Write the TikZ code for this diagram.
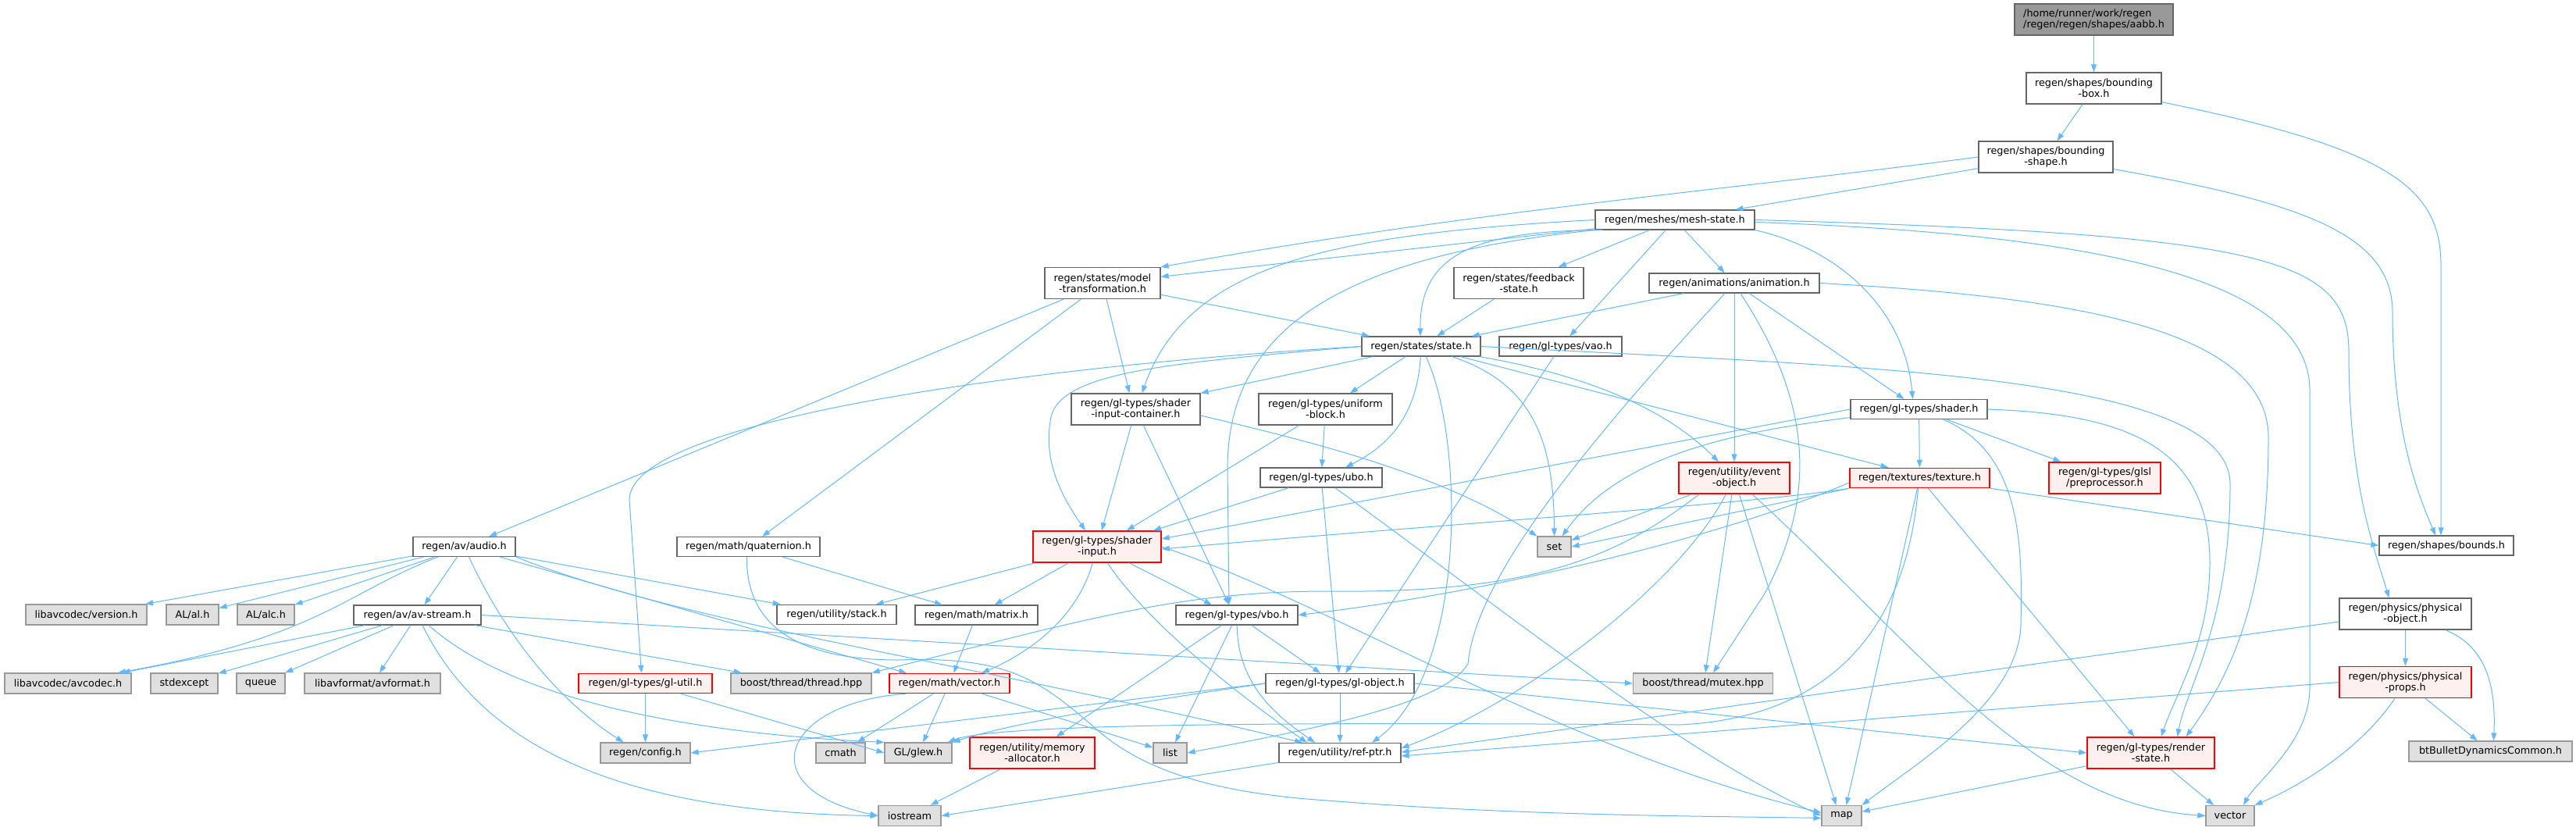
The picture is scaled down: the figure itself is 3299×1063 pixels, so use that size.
\documentclass[tikz,border=0pt]{standalone}
\usepackage{fontspec}
\setmainfont{DejaVu Sans}
\usetikzlibrary{arrows.meta}
\definecolor{edgeblue}{HTML}{63B8FF}
\definecolor{boxgray}{HTML}{666666}
\definecolor{sysfill}{HTML}{E0E0E0}
\definecolor{sysdraw}{HTML}{999999}
\definecolor{redfill}{HTML}{FFF0F0}
\definecolor{rootfill}{HTML}{999999}

\begin{document}
\begin{tikzpicture}[x=1pt, y=-1pt,
    every node/.style={font=\fontsize{12.8pt}{14pt}\selectfont, inner sep=0pt, align=center},
    box/.style={draw=boxgray, fill=white, line width=1.2pt, minimum height=25pt},
    rbox/.style={draw=red, fill=redfill, line width=1.5pt, minimum height=25pt},
    sysbox/.style={draw=sysdraw, fill=sysfill, line width=1.2pt, minimum height=26pt},
    rootbox/.style={draw=boxgray, fill=rootfill, line width=1.2pt},
    w/.style={minimum width=#1pt},
    tall/.style={minimum height=40pt},
    dep/.style={draw=edgeblue, line width=1pt, -{Triangle[length=10pt,width=7pt]}}]
  \useasboundingbox (0,0) rectangle (3299,1063);

  % headers of the project
  \node[rootbox, w=203, tall, align=left] (aabb) at (2681.5,25) {/home/runner/work/regen\\/regen/regen/shapes/aabb.h};
  \node[box, w=173, tall] (bbox) at (2681.5,113) {regen/shapes/bounding\\-box.h};
  \node[box, w=172, tall] (bshape) at (2620,201) {regen/shapes/bounding\\-shape.h};
  \node[box, w=204] (meshstate) at (2145,281.5) {regen/meshes/mesh-state.h};
  \node[box, w=148, tall] (modeltrans) at (1412,362.5) {regen/states/model\\-transformation.h};
  \node[box, w=166, tall] (feedback) at (1945,362.5) {regen/states/feedback\\-state.h};
  \node[box, w=218] (animation) at (2221,362.5) {regen/animations/animation.h};
  \node[box, w=152] (state) at (1820,443.5) {regen/states/state.h};
  \node[box, w=157] (vao) at (1998.5,443.5) {regen/gl-types/vao.h};
  \node[box, w=165, tall] (sic) at (1454.5,524) {regen/gl-types/shader\\-input-container.h};
  \node[box, w=171, tall] (ublock) at (1697.5,524) {regen/gl-types/uniform\\-block.h};
  \node[box, w=175] (shader) at (2457.5,524) {regen/gl-types/shader.h};
  \node[box, w=156] (ubo) at (1692,611.5) {regen/gl-types/ubo.h};
  \node[rbox, w=142, tall] (eventobj) at (2221,612) {regen/utility/event\\-object.h};
  \node[rbox, w=179] (texture) at (2458.5,612) {regen/textures/texture.h};
  \node[rbox, w=143, tall] (glsl) at (2695.5,612) {regen/gl-types/glsl\\/preprocessor.h};
  \node[rbox, w=164, tall] (sinput) at (1405,700) {regen/gl-types/shader\\-input.h};
  \node[box, w=172] (bounds) at (3133,698.5) {regen/shapes/bounds.h};
  \node[box, w=131] (audio) at (594.5,700) {regen/av/audio.h};
  \node[box, w=183] (quaternion) at (958.5,700) {regen/math/quaternion.h};
  \node[box, w=163] (avstream) at (534.5,787.5) {regen/av/av-stream.h};
  \node[box, w=153] (stack) at (1071.5,787) {regen/utility/stack.h};
  \node[box, w=157] (matrix) at (1250.5,787.5) {regen/math/matrix.h};
  \node[box, w=156] (vbo) at (1584,787.5) {regen/gl-types/vbo.h};
  \node[box, w=169, tall] (physobj) at (3080.5,786) {regen/physics/physical\\-object.h};
  \node[rbox, w=171] (glutil) at (826.5,875) {regen/gl-types/gl-util.h};
  \node[rbox, w=154] (vectorh) at (1216,875) {regen/math/vector.h};
  \node[box, w=190] (globj) at (1716,875) {regen/gl-types/gl-object.h};
  \node[rbox, w=169, tall] (physprops) at (3080.5,873.5) {regen/physics/physical\\-props.h};
  \node[rbox, w=160, tall] (memalloc) at (1322,964) {regen/utility/memory\\-allocator.h};
  \node[box, w=156] (refptr) at (1716,964) {regen/utility/ref-ptr.h};
  \node[rbox, w=163, tall] (renderstate) at (2754.5,964) {regen/gl-types/render\\-state.h};

  % system and library headers
  \node[sysbox, w=43] (set) at (1990.5,700) {set};
  \node[sysbox, w=155] (avversion) at (110.5,787) {libavcodec/version.h};
  \node[sysbox, w=67] (alh) at (246.5,787) {AL/al.h};
  \node[sysbox, w=73] (alch) at (340.5,787) {AL/alc.h};
  \node[sysbox, w=162] (avcodec) at (87,875) {libavcodec/avcodec.h};
  \node[sysbox, w=86] (stdexcept) at (236,875) {stdexcept};
  \node[sysbox, w=62] (queue) at (334,875) {queue};
  \node[sysbox, w=174] (avformat) at (477,875) {libavformat/avformat.h};
  \node[sysbox, w=180] (thread) at (1026,875) {boost/thread/thread.hpp};
  \node[sysbox, w=179] (mutex) at (2181,875) {boost/thread/mutex.hpp};
  \node[sysbox, w=115] (config) at (826.5,964) {regen/config.h};
  \node[sysbox, w=63] (cmath) at (1076.5,964) {cmath};
  \node[sysbox, w=86] (glew) at (1176,964) {GL/glew.h};
  \node[sysbox, w=43] (list) at (1498.5,964) {list};
  \node[sysbox, w=209] (btbullet) at (3189.5,962) {btBulletDynamicsCommon.h};
  \node[sysbox, w=80] (iostream) at (1165,1044.5) {iostream};
  \node[sysbox, w=51] (map) at (2358.5,1044.5) {map};
  \node[sysbox, w=62] (vector) at (2856,1044.5) {vector};

  % top of the graph
  \draw[dep] (aabb) -- (bbox);
  \draw[dep] (bbox) -- (bshape);
  \draw[dep] (bbox) .. controls (3060,190) and (3126,240) .. (3126,340) -- ([xshift=-7pt]bounds.north);
  \draw[dep] (bshape) .. controls (2950,260) and (3064,300) .. (3064,400) .. controls (3064,560) and (3100,640) .. ([xshift=-14pt]bounds.north);
  \draw[dep] (bshape) -- (meshstate);
  \draw[dep] (bshape.west) .. controls (2200,245) and (1900,268) .. (modeltrans.north east);

  % mesh-state
  \draw[dep] (meshstate) -- (modeltrans);
  \draw[dep] (meshstate.west) .. controls (1700,300) and (1520,340) .. ([xshift=8pt]sic.north);
  \draw[dep] (meshstate.south west) .. controls (1700,330) and (1572,430) .. (1572,600) -- ([xshift=-10pt]vbo.north);
  \draw[dep] ([xshift=10pt]meshstate.south west) .. controls (1880,295) and (1818,330) .. ([xshift=-1pt]state.north);
  \draw[dep] (meshstate) -- (feedback);
  \draw[dep] (meshstate) -- (vao);
  \draw[dep] (meshstate) -- (animation);
  \draw[dep] (meshstate.south east) .. controls (2360,320) and (2440,400) .. ([xshift=-8pt]shader.north);
  \draw[dep] (meshstate.east) .. controls (2900,300) and (3008,330) .. (3008,450) .. controls (3008,620) and (3040,700) .. ([xshift=-21pt]physobj.north);
  \draw[dep] ([yshift=-3pt]meshstate.east) .. controls (2700,300) and (2958,360) .. (2958,500) -- (2958,880) .. controls (2958,950) and (2890,1000) .. ([xshift=17pt]vector.north);

  % model-transformation, feedback, animation
  \draw[dep] (modeltrans) -- (state);
  \draw[dep] (modeltrans) -- ([xshift=-8pt]sic.north);
  \draw[dep] (modeltrans) -- (audio);
  \draw[dep] (modeltrans) -- (quaternion);
  \draw[dep] (feedback) -- (state);
  \draw[dep] (animation) -- (state);
  \draw[dep] (animation) -- (eventobj);
  \draw[dep] (animation) -- ([xshift=-19pt]shader.north);
  \draw[dep] (animation.east) .. controls (2650,380) and (2905,420) .. (2905,560) .. controls (2905,760) and (2860,860) .. ([xshift=45pt]renderstate.north);
  \draw[dep] ([xshift=8pt]animation.south) .. controls (2310,500) and (2335,620) .. (2260,760) -- ([xshift=13pt]mutex.north);
  \draw[dep] ([xshift=-12pt]animation.south) .. controls (2030,570) and (1890,740) .. (1880,850) .. controls (1850,900) and (1700,930) .. (list.east);

  % state
  \draw[dep] (state.west) .. controls (1300,470) and (806,540) .. (806,640) -- ([xshift=-5pt]glutil.north);
  \draw[dep] (state.west) .. controls (1500,465) and (1350,475) .. (1345,540) .. controls (1335,600) and (1370,650) .. ([xshift=-15pt]sinput.north);
  \draw[dep] (state) -- (sic.north east);
  \draw[dep] (state) -- (ublock);
  \draw[dep] (state) .. controls (1815,530) and (1780,570) .. ([xshift=31pt]ubo.north);
  \draw[dep] (state) .. controls (1875,560) and (1880,860) .. ([xshift=41pt]refptr.north);
  \draw[dep] (state) .. controls (1960,490) and (1990,560) .. (set);
  \draw[dep] (state) .. controls (2000,475) and (2120,510) .. ([xshift=-20pt]eventobj.north);
  \draw[dep] (state) -- ([xshift=-40pt]texture.north);
  \draw[dep] (state.east) .. controls (2400,470) and (2856,480) .. (2856,620) .. controls (2856,800) and (2800,880) .. ([xshift=34pt]renderstate.north);

  % buffers and inputs
  \draw[dep] (sic) -- (sinput);
  \draw[dep] (sic) -- ([xshift=-10pt]vbo.north);
  \draw[dep] ([yshift=-8pt]sic.east) .. controls (1700,570) and (1850,610) .. (set.north west);
  \draw[dep] (ublock) -- ([xshift=38pt]sinput.north);
  \draw[dep] (ublock) -- (ubo);
  \draw[dep] (ubo) -- ([xshift=72pt]sinput.north);
  \draw[dep] (ubo) -- (globj);
  \draw[dep] (ubo) .. controls (1950,800) and (2150,960) .. (map.west);
  \draw[dep] (vao) -- ([xshift=7pt]globj.north);
  \draw[dep] (sinput) -- (stack);
  \draw[dep] (sinput) -- (matrix);
  \draw[dep] (sinput) .. controls (1380,790) and (1320,835) .. ([xshift=41pt]vectorh.north);
  \draw[dep] (sinput) -- ([xshift=-32pt]vbo.north);
  \draw[dep] (sinput) .. controls (1470,800) and (1600,900) .. ([xshift=-42pt]refptr.north);
  \draw[dep] (sinput.east) .. controls (1700,770) and (2000,960) .. ([yshift=4pt]map.west);
  \draw[dep] (matrix) -- (vectorh);
  \draw[dep] (vbo) -- (memalloc);
  \draw[dep] (vbo) -- (list);
  \draw[dep] (vbo) .. controls (1585,880) and (1640,920) .. ([xshift=-32pt]refptr.north);
  \draw[dep] (vbo) -- ([xshift=-25pt]globj.north);
  \draw[dep] (vectorh) -- (cmath);
  \draw[dep] (vectorh) -- (glew);
  \draw[dep] (vectorh) -- (list);
  \draw[dep] ([xshift=-56pt]vectorh.south) .. controls (1000,900) and (960,1010) .. (iostream.west);
  \draw[dep] (globj.west) -- (config.east);
  \draw[dep] (globj.west) .. controls (1450,900) and (1300,925) .. (glew.north east);
  \draw[dep] (globj) -- (refptr);
  \draw[dep] (globj.east) -- (renderstate.west);
  \draw[dep] (glutil) -- (config);
  \draw[dep] (glutil) -- (glew.west);
  \draw[dep] (memalloc) -- (iostream);
  \draw[dep] (refptr) -- (iostream.east);
  \draw[dep] (renderstate) -- (map);
  \draw[dep] (renderstate) -- ([xshift=-21pt]vector.north);

  % physics
  \draw[dep] (physobj) -- (physprops);
  \draw[dep] (physobj) .. controls (3190,830) and (3196,890) .. ([xshift=4pt]btbullet.north);
  \draw[dep] ([yshift=-10pt]physobj.west) -- ([yshift=1pt]refptr.east);
  \draw[dep] (physprops) -- (btbullet);
  \draw[dep] (physprops) .. controls (3030,950) and (2960,1000) .. (vector.north east);
  \draw[dep] (physprops.west) -- ([yshift=-4pt]refptr.east);

  % event-object
  \draw[dep] (eventobj) -- (set);
  \draw[dep] ([xshift=-45pt]eventobj.south) .. controls (2070,715) and (1960,760) .. (1700,757) .. controls (1550,757) and (1450,780) .. (1330,808) -- (thread.north east);
  \draw[dep] (eventobj) .. controls (2150,750) and (1950,900) .. ([yshift=6pt]refptr.east);
  \draw[dep] (eventobj) -- ([xshift=3pt]mutex.north);
  \draw[dep] (eventobj) -- ([xshift=-7pt]map.north);
  \draw[dep] (eventobj) .. controls (2450,820) and (2600,1030) .. (vector.west);

  % texture and shader
  \draw[dep] (texture.south west) -- (set.east);
  \draw[dep] (texture.south west) .. controls (2250,645) and (1800,675) .. ([yshift=-3pt]sinput.east);
  \draw[dep] ([yshift=-6pt]texture.west) .. controls (2200,690) and (1900,760) .. (vbo.east);
  \draw[dep] ([xshift=-2pt]texture.south) .. controls (2440,820) and (2330,920) .. (2150,928) .. controls (1700,925) and (1280,925) .. ([xshift=-6pt]glew.north east);
  \draw[dep] (texture) -- ([xshift=6pt]map.north);
  \draw[dep] (texture) -- ([xshift=-21pt]renderstate.north);
  \draw[dep] (texture.south east) -- (bounds.west);
  \draw[dep] (shader.west) -- ([yshift=10pt]sinput.east);
  \draw[dep] (shader) .. controls (2200,555) and (2070,590) .. ([xshift=10pt]set.north);
  \draw[dep] (shader) -- (texture);
  \draw[dep] (shader) -- (glsl);
  \draw[dep] (shader) .. controls (2590,580) and (2590,700) .. (2588,800) .. controls (2585,900) and (2450,980) .. (map.north east);
  \draw[dep] (shader.east) .. controls (2720,530) and (2830,570) .. (2830,720) .. controls (2830,820) and (2790,880) .. ([xshift=13pt]renderstate.north);

  % audio side
  \draw[dep] (audio) -- (avversion);
  \draw[dep] (audio) -- (alh);
  \draw[dep] (audio) -- (alch);
  \draw[dep] (audio) .. controls (440,760) and (410,815) .. ([xshift=64pt]avcodec.north);
  \draw[dep] (audio) -- (avstream);
  \draw[dep] (audio) .. controls (650,820) and (720,900) .. ([xshift=-28pt]config.north);
  \draw[dep] (audio) -- (stack);
  \draw[dep] (audio) -- ([xshift=-55pt]vectorh.north);
  \draw[dep] (audio.south east) .. controls (880,800) and (1250,850) .. ([xshift=-48pt]refptr.north);
  \draw[dep] (avstream) -- (avcodec);
  \draw[dep] (avstream) -- (stdexcept);
  \draw[dep] (avstream) -- (queue);
  \draw[dep] (avstream) -- (avformat);
  \draw[dep] (avstream.east) -- (mutex.west);
  \draw[dep] (avstream) -- (thread);
  \draw[dep] (avstream) .. controls (660,900) and (900,940) .. (glew.north west);
  \draw[dep] (avstream) .. controls (620,960) and (800,1040) .. (iostream.west);
  \draw[dep] (quaternion) -- (matrix);
  \draw[dep] ([xshift=-2pt]quaternion.south) .. controls (955,800) and (1020,845) .. (1150,845) .. controls (1290,840) and (1330,870) .. (1400,930) .. controls (1460,985) and (1550,1015) .. (1700,1025) .. controls (1950,1045) and (2200,1045) .. ([yshift=-3pt]map.west);
\end{tikzpicture}
\end{document}
